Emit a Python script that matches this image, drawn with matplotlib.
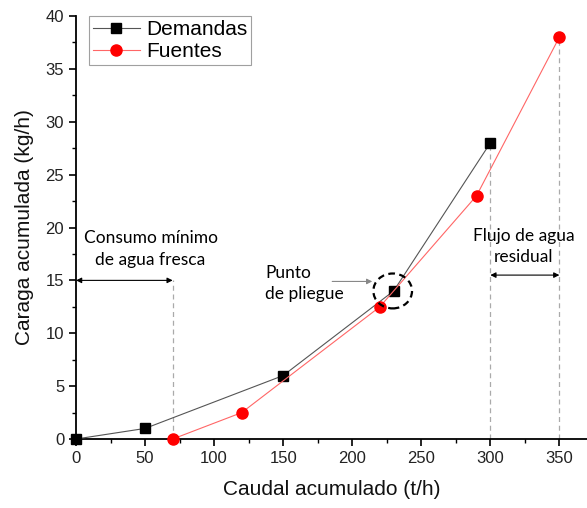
import matplotlib
matplotlib.use("Agg")
import matplotlib.pyplot as plt
from matplotlib.patches import Ellipse
from matplotlib.ticker import MultipleLocator

dem_x = [0, 50, 150, 230, 300]
dem_y = [0, 1, 6, 14, 28]
fue_x = [70, 120, 220, 290, 350]
fue_y = [0, 2.5, 12.5, 23, 38]

plt.rcParams['font.family'] = ['Liberation Sans', 'DejaVu Sans']
fig = plt.figure(figsize=(5.87, 5.08), dpi=100)
ax = fig.add_axes([0.1295, 0.1358, 0.8705, 0.8327])

ax.plot(dem_x, dem_y, color='#555555', lw=0.8, marker='s', ms=7, mfc='black', mec='black',
        label='Demandas', clip_on=False, zorder=3)
ax.plot(fue_x, fue_y, color='#ff6666', lw=0.8, marker='o', ms=8, mfc='red', mec='red',
        label='Fuentes', clip_on=False, zorder=3)

ax.set_xlim(0, 370)
ax.set_ylim(0, 40)
ax.xaxis.set_major_locator(MultipleLocator(50))
ax.xaxis.set_minor_locator(MultipleLocator(25))
ax.yaxis.set_major_locator(MultipleLocator(5))
ax.yaxis.set_minor_locator(MultipleLocator(2.5))
for s in ['top', 'right']:
    ax.spines[s].set_visible(False)
for s in ['left', 'bottom']:
    ax.spines[s].set_linewidth(1.3)
ax.tick_params(which='major', direction='out', length=5, width=1.2, labelsize=12, colors='black')
ax.tick_params(which='minor', direction='out', length=3, width=1.0)
for lab in ax.get_xticklabels() + ax.get_yticklabels():
    lab.set_color('#222222')

ax.set_xlabel('Caudal acumulado (t/h)', fontsize=15, labelpad=10, color='#111111')
ax.set_ylabel('Caraga acumulada (kg/h)', fontsize=15, labelpad=8, color='#111111')

leg = ax.legend(loc='upper left', bbox_to_anchor=(0.025, 1.0), fontsize=15, frameon=True,
                fancybox=False, edgecolor='#888888', handlelength=2.25, borderpad=0.2,
                labelspacing=0.15, handletextpad=0.3, borderaxespad=0.0)
leg.get_frame().set_linewidth(0.8)

ann_font = dict(family=['Lato', 'DejaVu Sans'], fontsize=12.5, color='black')
gray = '#aaaaaa'

# minimum fresh water
ax.plot([70, 70], [0, 15], ls=(0, (4, 3)), color=gray, lw=0.9, zorder=1)
ax.annotate('', xy=(0, 15), xytext=(70, 15),
            arrowprops=dict(arrowstyle='<|-|>', color='black', lw=0.8, mutation_scale=8,
                            shrinkA=0, shrinkB=0))
ax.text(54, 18.0, 'Consumo mínimo\nde agua fresca', ha='center', va='center',
        linespacing=1.45, **ann_font)

# residual water
ax.plot([300, 300], [0, 27.5], ls=(0, (4, 3)), color=gray, lw=0.9, zorder=1)
ax.plot([350, 350], [0, 37.5], ls=(0, (4, 3)), color=gray, lw=0.9, zorder=1)
ax.annotate('', xy=(300, 15.5), xytext=(350, 15.5),
            arrowprops=dict(arrowstyle='<|-|>', color='black', lw=0.8, mutation_scale=8,
                            shrinkA=0, shrinkB=0))
ax.text(324, 18.2, 'Flujo de agua\nresidual', ha='center', va='center',
        linespacing=1.45, **ann_font)

# pinch point
ax.add_patch(Ellipse((229.3, 14.0), 28, 3.3, fill=False, ls=(0, (3, 2)), lw=1.6,
                     edgecolor='black', zorder=4))
ax.annotate('', xy=(214.5, 14.9), xytext=(185.5, 14.9),
            arrowprops=dict(arrowstyle='-|>', color='#888888', lw=0.8, mutation_scale=8,
                            shrinkA=0, shrinkB=0))
ax.text(137, 14.7, 'Punto\nde pliegue', ha='left', va='center', linespacing=1.45, **ann_font)

fig.savefig('out.png', dpi=100)
